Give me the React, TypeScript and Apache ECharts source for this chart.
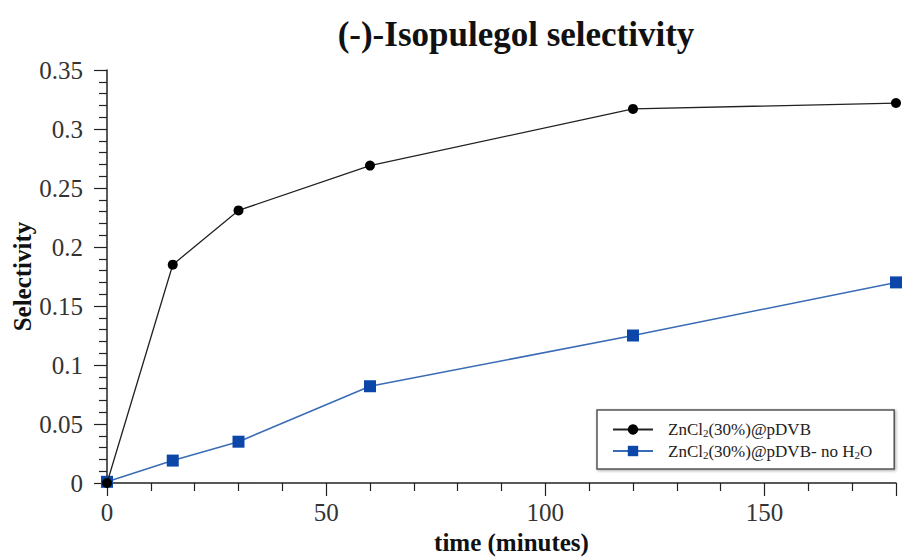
import React, { useEffect, useRef } from "react";
import * as echarts from "echarts";

// Reaction time points (minutes)
const timeMinutes = [0, 15, 30, 60, 120, 180];

// (-)-Isopulegol selectivity for each catalyst
const selectivityPdvb = [0, 0.185, 0.231, 0.269, 0.317, 0.322];
const selectivityPdvbNoWater = [0.001, 0.019, 0.035, 0.082, 0.125, 0.17];

const seriesNames = ["ZnCl2(30%)@pDVB", "ZnCl2(30%)@pDVB- no H2O"];
const legendRich = [
  "{g|}{a|ZnCl}{s|2}{a|(30%)@pDVB}",
  "{g|}{a|ZnCl}{s|2}{a|(30%)@pDVB- no H}{s|2}{a|O}",
];

const titleText = "(-)-Isopulegol selectivity";
const xName = "time (minutes)";
const yName = "Selectivity";

const SERIF = "'Liberation Serif', 'Times New Roman', serif";

export default function App() {
  const ref = useRef<HTMLDivElement>(null);

  useEffect(() => {
    if (!ref.current) return;
    const chart = echarts.init(ref.current, null, { renderer: "svg" });

    const pairs = (ys: number[]) => timeMinutes.map((t, i) => [t, ys[i]]);

    chart.setOption({
      animation: false,
      backgroundColor: "#ffffff",
      title: {
        text: titleText,
        left: 511,
        textAlign: "center",
        top: 12,
        textStyle: {
          fontFamily: SERIF,
          fontWeight: "bold",
          fontSize: 35,
          color: "#111",
        },
      },
      grid: {
        left: 107,
        right: 14,
        top: 70,
        bottom: 74,
        outerBoundsMode: "none",
      },
      legend: {
        orient: "vertical",
        left: 597,
        top: 410,
        padding: [11, 22, 9, 15],
        itemWidth: 40,
        itemHeight: 13,
        itemGap: 4,
        backgroundColor: "#ffffff",
        borderColor: "#555",
        borderWidth: 1.5,
        shadowBlur: 3,
        shadowColor: "rgba(0,0,0,0.35)",
        shadowOffsetX: 1,
        shadowOffsetY: 1,
        data: seriesNames,
        formatter: (name: string) => legendRich[seriesNames.indexOf(name)],
        textStyle: {
          fontFamily: SERIF,
          fontSize: 17,
          color: "#222",
          rich: {
            g: { width: 10 },
            a: { fontFamily: SERIF, fontSize: 17, color: "#222" },
            s: {
              fontFamily: SERIF,
              fontSize: 11,
              color: "#222",
              padding: [7, 0, 0, 0],
            },
          },
        },
      },
      xAxis: {
        type: "value",
        min: 0,
        max: 180,
        interval: 50,
        name: xName,
        nameLocation: "middle",
        nameMoveOverlap: false,
        nameGap: 47,
        nameTextStyle: {
          fontFamily: SERIF,
          fontWeight: "bold",
          fontSize: 25,
          lineHeight: 25,
          color: "#111",
          padding: [0, 0, 0, 20],
        },
        axisLine: { show: true, lineStyle: { color: "#222", width: 1.5 } },
        axisTick: { show: true, length: 13, lineStyle: { color: "#222", width: 1.2 } },
        minorTick: { show: true, splitNumber: 5, length: 8, lineStyle: { color: "#222", width: 1.2 } },
        axisLabel: {
          margin: 17,
          showMaxLabel: false,
          fontFamily: SERIF,
          fontSize: 25,
          lineHeight: 25,
          color: "#333",
        },
        splitLine: { show: false },
      },
      yAxis: {
        type: "value",
        min: 0,
        max: 0.35,
        interval: 0.05,
        name: yName,
        nameLocation: "middle",
        nameMoveOverlap: false,
        nameGap: 72,
        nameTextStyle: {
          fontFamily: SERIF,
          fontWeight: "bold",
          fontSize: 25,
          color: "#111",
        },
        axisLine: { show: true, lineStyle: { color: "#222", width: 1.5 } },
        axisTick: { show: true, length: 13, lineStyle: { color: "#222", width: 1.2 } },
        minorTick: { show: true, splitNumber: 5, length: 8, lineStyle: { color: "#222", width: 1.2 } },
        axisLabel: {
          margin: 24,
          fontFamily: SERIF,
          fontSize: 25,
          color: "#333",
          formatter: (v: number) => String(Math.round(v * 100) / 100),
        },
        splitLine: { show: false },
      },
      series: [
        {
          name: seriesNames[0],
          type: "line",
          data: pairs(selectivityPdvb),
          symbol: "circle",
          symbolSize: 10,
          lineStyle: { color: "#222", width: 1.3 },
          itemStyle: { color: "#000" },
          z: 3,
        },
        {
          name: seriesNames[1],
          type: "line",
          data: pairs(selectivityPdvbNoWater),
          symbol: "rect",
          symbolSize: 12,
          lineStyle: { color: "#3a6cb5", width: 1.5 },
          itemStyle: { color: "#0b46a8" },
          z: 2,
        },
      ],
    });

    return () => chart.dispose();
  }, []);

  return (
    <div
      ref={ref}
      style={{ width: 910, height: 557, position: "absolute", left: 0, top: 0 }}
    />
  );
}
